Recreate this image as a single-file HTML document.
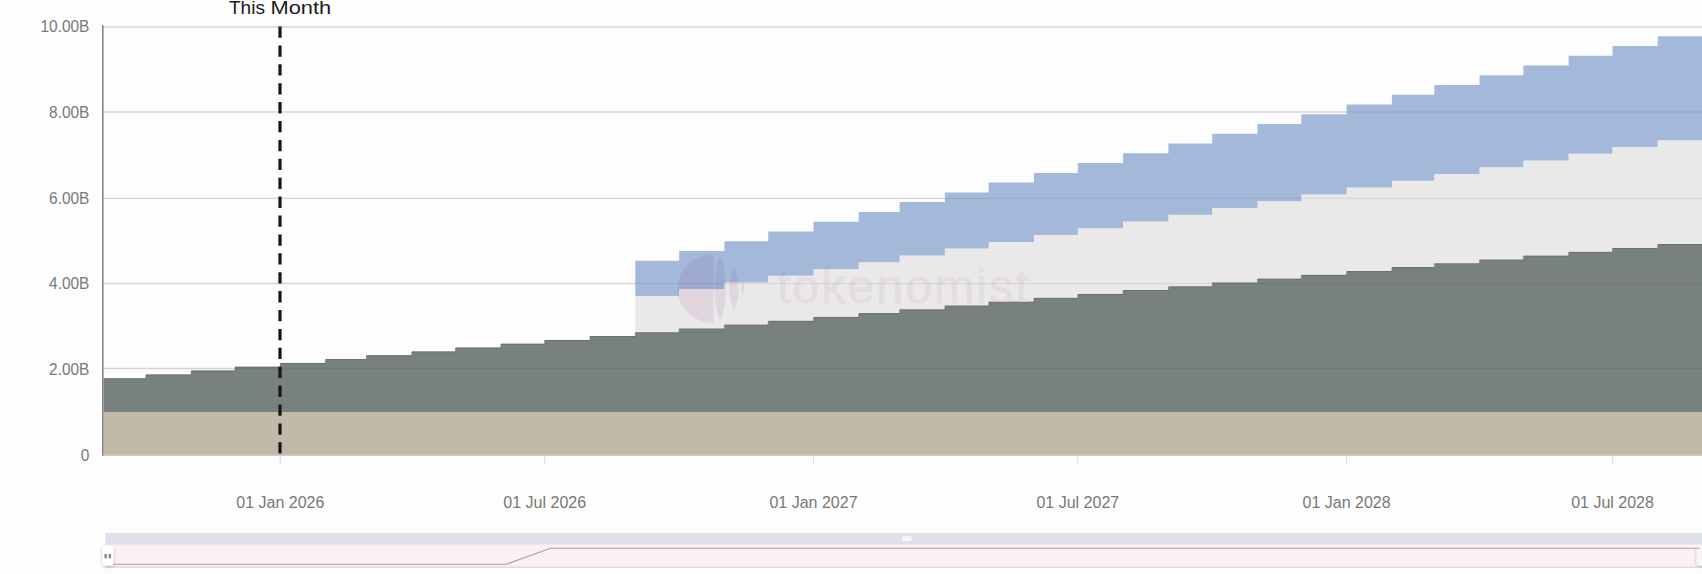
<!DOCTYPE html>
<html><head><meta charset="utf-8"><title>Chart</title>
<style>
html,body{margin:0;padding:0;background:#fdfdfd;}
body{width:1702px;height:574px;overflow:hidden;position:relative;font-family:"Liberation Sans",sans-serif;}
svg{position:absolute;left:0;top:0;display:block}
text{font-family:"Liberation Sans",sans-serif;}
</style></head><body>
<svg width="1702" height="574" viewBox="0 0 1702 574">
<defs>
<filter id="sh" x="-50%" y="-50%" width="200%" height="200%"><feGaussianBlur in="SourceAlpha" stdDeviation="1.6"/><feOffset dx="0" dy="0.5"/><feComponentTransfer><feFuncA type="linear" slope="0.28"/></feComponentTransfer><feMerge><feMergeNode/><feMergeNode in="SourceGraphic"/></feMerge></filter>
<filter id="blur1"><feGaussianBlur stdDeviation="0.7"/></filter>
</defs>
<rect width="1702" height="574" fill="#fdfdfd"/>

<rect x="103.5" y="26.20" width="1598.5" height="1.4" fill="#e3e3e3"/>
<rect x="103.5" y="111.35" width="1598.5" height="1.4" fill="#e3e3e3"/>
<rect x="103.5" y="197.75" width="1598.5" height="1.4" fill="#e3e3e3"/>
<rect x="103.5" y="282.85" width="1598.5" height="1.4" fill="#e3e3e3"/>
<rect x="103.5" y="367.80" width="1598.5" height="1.4" fill="#e3e3e3"/>
<path d="M103.5,412.0 L1702.0,412.0 L1702.0,455.0 L103.5,455.0Z" fill="#c3b9a8"/>
<path d="M103.5,378.2 L145.9,378.2 L145.9,374.4 L191.2,374.4 L191.2,370.5 L235.0,370.5 L235.0,366.7 L280.3,366.7 L280.3,362.9 L325.6,362.9 L325.6,359.1 L366.5,359.1 L366.5,355.2 L411.8,355.2 L411.8,351.4 L455.6,351.4 L455.6,347.6 L500.9,347.6 L500.9,343.7 L544.7,343.7 L544.7,339.9 L590.0,339.9 L590.0,336.1 L635.3,336.1 L635.3,332.2 L679.1,332.2 L679.1,328.4 L724.4,328.4 L724.4,324.6 L768.2,324.6 L768.2,320.8 L813.5,320.8 L813.5,316.9 L858.7,316.9 L858.7,313.1 L899.6,313.1 L899.6,309.3 L944.9,309.3 L944.9,305.4 L988.7,305.4 L988.7,301.6 L1034.0,301.6 L1034.0,297.8 L1077.8,297.8 L1077.8,293.9 L1123.1,293.9 L1123.1,290.1 L1168.4,290.1 L1168.4,286.3 L1212.2,286.3 L1212.2,282.4 L1257.5,282.4 L1257.5,278.6 L1301.3,278.6 L1301.3,274.8 L1346.6,274.8 L1346.6,271.0 L1391.9,271.0 L1391.9,267.1 L1434.3,267.1 L1434.3,263.3 L1479.5,263.3 L1479.5,259.5 L1523.4,259.5 L1523.4,255.6 L1568.6,255.6 L1568.6,251.8 L1612.5,251.8 L1612.5,248.0 L1657.7,248.0 L1657.7,244.1 L1702.0,244.1 L1702.0,412.0 L103.5,412.0Z" fill="#79817e"/>
<path d="M635.3,296.1 L679.1,296.1 L679.1,289.3 L724.4,289.3 L724.4,282.5 L768.2,282.5 L768.2,275.8 L813.5,275.8 L813.5,269.0 L858.7,269.0 L858.7,262.2 L899.6,262.2 L899.6,255.4 L944.9,255.4 L944.9,248.6 L988.7,248.6 L988.7,241.9 L1034.0,241.9 L1034.0,235.1 L1077.8,235.1 L1077.8,228.3 L1123.1,228.3 L1123.1,221.5 L1168.4,221.5 L1168.4,214.7 L1212.2,214.7 L1212.2,208.0 L1257.5,208.0 L1257.5,201.2 L1301.3,201.2 L1301.3,194.4 L1346.6,194.4 L1346.6,187.6 L1391.9,187.6 L1391.9,180.8 L1434.3,180.8 L1434.3,174.1 L1479.5,174.1 L1479.5,167.3 L1523.4,167.3 L1523.4,160.5 L1568.6,160.5 L1568.6,153.7 L1612.5,153.7 L1612.5,146.9 L1657.7,146.9 L1657.7,140.2 L1702.0,140.2 L1702.0,244.1 L1657.7,244.1 L1657.7,248.0 L1612.5,248.0 L1612.5,251.8 L1568.6,251.8 L1568.6,255.6 L1523.4,255.6 L1523.4,259.5 L1479.5,259.5 L1479.5,263.3 L1434.3,263.3 L1434.3,267.1 L1391.9,267.1 L1391.9,271.0 L1346.6,271.0 L1346.6,274.8 L1301.3,274.8 L1301.3,278.6 L1257.5,278.6 L1257.5,282.4 L1212.2,282.4 L1212.2,286.3 L1168.4,286.3 L1168.4,290.1 L1123.1,290.1 L1123.1,293.9 L1077.8,293.9 L1077.8,297.8 L1034.0,297.8 L1034.0,301.6 L988.7,301.6 L988.7,305.4 L944.9,305.4 L944.9,309.3 L899.6,309.3 L899.6,313.1 L858.7,313.1 L858.7,316.9 L813.5,316.9 L813.5,320.8 L768.2,320.8 L768.2,324.6 L724.4,324.6 L724.4,328.4 L679.1,328.4 L679.1,332.2 L635.3,332.2Z" fill="#e9e9e9"/>
<path d="M635.3,260.7 L679.1,260.7 L679.1,250.9 L724.4,250.9 L724.4,241.2 L768.2,241.2 L768.2,231.4 L813.5,231.4 L813.5,221.7 L858.7,221.7 L858.7,211.9 L899.6,211.9 L899.6,202.1 L944.9,202.1 L944.9,192.4 L988.7,192.4 L988.7,182.6 L1034.0,182.6 L1034.0,172.9 L1077.8,172.9 L1077.8,163.1 L1123.1,163.1 L1123.1,153.3 L1168.4,153.3 L1168.4,143.6 L1212.2,143.6 L1212.2,133.8 L1257.5,133.8 L1257.5,124.1 L1301.3,124.1 L1301.3,114.3 L1346.6,114.3 L1346.6,104.5 L1391.9,104.5 L1391.9,94.8 L1434.3,94.8 L1434.3,85.0 L1479.5,85.0 L1479.5,75.3 L1523.4,75.3 L1523.4,65.5 L1568.6,65.5 L1568.6,55.7 L1612.5,55.7 L1612.5,46.0 L1657.7,46.0 L1657.7,36.2 L1702.0,36.2 L1702.0,140.2 L1657.7,140.2 L1657.7,146.9 L1612.5,146.9 L1612.5,153.7 L1568.6,153.7 L1568.6,160.5 L1523.4,160.5 L1523.4,167.3 L1479.5,167.3 L1479.5,174.1 L1434.3,174.1 L1434.3,180.8 L1391.9,180.8 L1391.9,187.6 L1346.6,187.6 L1346.6,194.4 L1301.3,194.4 L1301.3,201.2 L1257.5,201.2 L1257.5,208.0 L1212.2,208.0 L1212.2,214.7 L1168.4,214.7 L1168.4,221.5 L1123.1,221.5 L1123.1,228.3 L1077.8,228.3 L1077.8,235.1 L1034.0,235.1 L1034.0,241.9 L988.7,241.9 L988.7,248.6 L944.9,248.6 L944.9,255.4 L899.6,255.4 L899.6,262.2 L858.7,262.2 L858.7,269.0 L813.5,269.0 L813.5,275.8 L768.2,275.8 L768.2,282.5 L724.4,282.5 L724.4,289.3 L679.1,289.3 L679.1,296.1 L635.3,296.1Z" fill="#a4b9da"/>
<path d="M103.5,378.7 L145.9,378.7 L145.9,374.9 L191.2,374.9 L191.2,371.0 L235.0,371.0 L235.0,367.2 L280.3,367.2 L280.3,363.4 L325.6,363.4 L325.6,359.6 L366.5,359.6 L366.5,355.7 L411.8,355.7 L411.8,351.9 L455.6,351.9 L455.6,348.1 L500.9,348.1 L500.9,344.2 L544.7,344.2 L544.7,340.4 L590.0,340.4 L590.0,336.6 L635.3,336.6 L635.3,332.7 L679.1,332.7 L679.1,328.9 L724.4,328.9 L724.4,325.1 L768.2,325.1 L768.2,321.2 L813.5,321.2 L813.5,317.4 L858.7,317.4 L858.7,313.6 L899.6,313.6 L899.6,309.8 L944.9,309.8 L944.9,305.9 L988.7,305.9 L988.7,302.1 L1034.0,302.1 L1034.0,298.3 L1077.8,298.3 L1077.8,294.4 L1123.1,294.4 L1123.1,290.6 L1168.4,290.6 L1168.4,286.8 L1212.2,286.8 L1212.2,282.9 L1257.5,282.9 L1257.5,279.1 L1301.3,279.1 L1301.3,275.3 L1346.6,275.3 L1346.6,271.5 L1391.9,271.5 L1391.9,267.6 L1434.3,267.6 L1434.3,263.8 L1479.5,263.8 L1479.5,260.0 L1523.4,260.0 L1523.4,256.1 L1568.6,256.1 L1568.6,252.3 L1612.5,252.3 L1612.5,248.5 L1657.7,248.5 L1657.7,244.6 L1702.0,244.6" fill="none" stroke="#5f6664" stroke-width="1" opacity="0.55"/>
<clipPath id="cBlue"><path d="M635.3,260.7 L679.1,260.7 L679.1,250.9 L724.4,250.9 L724.4,241.2 L768.2,241.2 L768.2,231.4 L813.5,231.4 L813.5,221.7 L858.7,221.7 L858.7,211.9 L899.6,211.9 L899.6,202.1 L944.9,202.1 L944.9,192.4 L988.7,192.4 L988.7,182.6 L1034.0,182.6 L1034.0,172.9 L1077.8,172.9 L1077.8,163.1 L1123.1,163.1 L1123.1,153.3 L1168.4,153.3 L1168.4,143.6 L1212.2,143.6 L1212.2,133.8 L1257.5,133.8 L1257.5,124.1 L1301.3,124.1 L1301.3,114.3 L1346.6,114.3 L1346.6,104.5 L1391.9,104.5 L1391.9,94.8 L1434.3,94.8 L1434.3,85.0 L1479.5,85.0 L1479.5,75.3 L1523.4,75.3 L1523.4,65.5 L1568.6,65.5 L1568.6,55.7 L1612.5,55.7 L1612.5,46.0 L1657.7,46.0 L1657.7,36.2 L1702.0,36.2 L1702.0,140.2 L1657.7,140.2 L1657.7,146.9 L1612.5,146.9 L1612.5,153.7 L1568.6,153.7 L1568.6,160.5 L1523.4,160.5 L1523.4,167.3 L1479.5,167.3 L1479.5,174.1 L1434.3,174.1 L1434.3,180.8 L1391.9,180.8 L1391.9,187.6 L1346.6,187.6 L1346.6,194.4 L1301.3,194.4 L1301.3,201.2 L1257.5,201.2 L1257.5,208.0 L1212.2,208.0 L1212.2,214.7 L1168.4,214.7 L1168.4,221.5 L1123.1,221.5 L1123.1,228.3 L1077.8,228.3 L1077.8,235.1 L1034.0,235.1 L1034.0,241.9 L988.7,241.9 L988.7,248.6 L944.9,248.6 L944.9,255.4 L899.6,255.4 L899.6,262.2 L858.7,262.2 L858.7,269.0 L813.5,269.0 L813.5,275.8 L768.2,275.8 L768.2,282.5 L724.4,282.5 L724.4,289.3 L679.1,289.3 L679.1,296.1 L635.3,296.1Z"/></clipPath><clipPath id="cLg"><path d="M635.3,296.1 L679.1,296.1 L679.1,289.3 L724.4,289.3 L724.4,282.5 L768.2,282.5 L768.2,275.8 L813.5,275.8 L813.5,269.0 L858.7,269.0 L858.7,262.2 L899.6,262.2 L899.6,255.4 L944.9,255.4 L944.9,248.6 L988.7,248.6 L988.7,241.9 L1034.0,241.9 L1034.0,235.1 L1077.8,235.1 L1077.8,228.3 L1123.1,228.3 L1123.1,221.5 L1168.4,221.5 L1168.4,214.7 L1212.2,214.7 L1212.2,208.0 L1257.5,208.0 L1257.5,201.2 L1301.3,201.2 L1301.3,194.4 L1346.6,194.4 L1346.6,187.6 L1391.9,187.6 L1391.9,180.8 L1434.3,180.8 L1434.3,174.1 L1479.5,174.1 L1479.5,167.3 L1523.4,167.3 L1523.4,160.5 L1568.6,160.5 L1568.6,153.7 L1612.5,153.7 L1612.5,146.9 L1657.7,146.9 L1657.7,140.2 L1702.0,140.2 L1702.0,244.1 L1657.7,244.1 L1657.7,248.0 L1612.5,248.0 L1612.5,251.8 L1568.6,251.8 L1568.6,255.6 L1523.4,255.6 L1523.4,259.5 L1479.5,259.5 L1479.5,263.3 L1434.3,263.3 L1434.3,267.1 L1391.9,267.1 L1391.9,271.0 L1346.6,271.0 L1346.6,274.8 L1301.3,274.8 L1301.3,278.6 L1257.5,278.6 L1257.5,282.4 L1212.2,282.4 L1212.2,286.3 L1168.4,286.3 L1168.4,290.1 L1123.1,290.1 L1123.1,293.9 L1077.8,293.9 L1077.8,297.8 L1034.0,297.8 L1034.0,301.6 L988.7,301.6 L988.7,305.4 L944.9,305.4 L944.9,309.3 L899.6,309.3 L899.6,313.1 L858.7,313.1 L858.7,316.9 L813.5,316.9 L813.5,320.8 L768.2,320.8 L768.2,324.6 L724.4,324.6 L724.4,328.4 L679.1,328.4 L679.1,332.2 L635.3,332.2Z"/></clipPath>
<g id="wm">
<g clip-path="url(#cBlue)"><g fill="#9faad0"><path d="M713.6,254 A36.2,34.4 0 0 0 713.6,322.8 Z"/>
<path d="M720.3,255 Q732,288.4 720.3,322 Q708.6,288.4 720.3,255 Z"/>
<path d="M734,268 Q743.1,288.5 734,309.5 Q724.9,288.5 734,268 Z"/>
<path d="M742.7,280 Q746.1,288 742.7,296 Q739.3,288 742.7,280 Z"/></g><g fill="#a0afd2" stroke="#a0afd2" stroke-width="0.8"><text x="777" y="302.6" font-size="48.5" letter-spacing="1.9" style="font-family:'Liberation Sans',sans-serif">tokenomist</text></g></g>
<g clip-path="url(#cLg)"><g fill="#e2d6de"><path d="M713.6,254 A36.2,34.4 0 0 0 713.6,322.8 Z"/>
<path d="M720.3,255 Q732,288.4 720.3,322 Q708.6,288.4 720.3,255 Z"/>
<path d="M734,268 Q743.1,288.5 734,309.5 Q724.9,288.5 734,268 Z"/>
<path d="M742.7,280 Q746.1,288 742.7,296 Q739.3,288 742.7,280 Z"/></g><g fill="#e5dce0" stroke="#e5dce0" stroke-width="0.8"><text x="777" y="302.6" font-size="48.5" letter-spacing="1.9" style="font-family:'Liberation Sans',sans-serif">tokenomist</text></g></g>
</g>
<rect x="103.5" y="26.20" width="1598.5" height="1.4" fill="#000" opacity="0.065"/>
<rect x="103.5" y="111.35" width="1598.5" height="1.4" fill="#000" opacity="0.065"/>
<rect x="103.5" y="197.75" width="1598.5" height="1.4" fill="#000" opacity="0.065"/>
<rect x="103.5" y="282.85" width="1598.5" height="1.4" fill="#000" opacity="0.065"/>
<rect x="103.5" y="367.80" width="1598.5" height="1.4" fill="#000" opacity="0.065"/>
<rect x="102.5" y="454.6" width="1599.5" height="1.4" fill="#cfcbc4"/>
<rect x="102.0" y="25.2" width="1.6" height="430.4" fill="#868686"/>
<rect x="279.7" y="456" width="1.2" height="7.5" fill="#dedede"/>
<rect x="544.1" y="456" width="1.2" height="7.5" fill="#dedede"/>
<rect x="812.9" y="456" width="1.2" height="7.5" fill="#dedede"/>
<rect x="1077.2" y="456" width="1.2" height="7.5" fill="#dedede"/>
<rect x="1346.0" y="456" width="1.2" height="7.5" fill="#dedede"/>
<rect x="1611.9" y="456" width="1.2" height="7.5" fill="#dedede"/>
<line x1="280" y1="26.5" x2="280" y2="454" stroke="#161616" stroke-width="3.2" stroke-dasharray="11.3 7.6"/>
<text transform="translate(89.4,32.00) scale(0.965,1)" font-size="16" fill="#787878" text-anchor="end">10.00B</text>
<text transform="translate(89.4,117.85) scale(0.965,1)" font-size="16" fill="#787878" text-anchor="end">8.00B</text>
<text transform="translate(89.4,203.70) scale(0.965,1)" font-size="16" fill="#787878" text-anchor="end">6.00B</text>
<text transform="translate(89.4,288.75) scale(0.965,1)" font-size="16" fill="#787878" text-anchor="end">4.00B</text>
<text transform="translate(89.4,374.70) scale(0.965,1)" font-size="16" fill="#787878" text-anchor="end">2.00B</text>
<text transform="translate(89.4,461.20) scale(0.965,1)" font-size="16" fill="#787878" text-anchor="end">0</text>
<text transform="translate(280.3,508) scale(1,1)" font-size="16" fill="#787878" text-anchor="middle">01 Jan 2026</text>
<text transform="translate(544.7,508) scale(1,1)" font-size="16" fill="#787878" text-anchor="middle">01 Jul 2026</text>
<text transform="translate(813.5,508) scale(1,1)" font-size="16" fill="#787878" text-anchor="middle">01 Jan 2027</text>
<text transform="translate(1077.8,508) scale(1,1)" font-size="16" fill="#787878" text-anchor="middle">01 Jul 2027</text>
<text transform="translate(1346.6,508) scale(1,1)" font-size="16" fill="#787878" text-anchor="middle">01 Jan 2028</text>
<text transform="translate(1612.5,508) scale(1,1)" font-size="16" fill="#787878" text-anchor="middle">01 Jul 2028</text>
<text transform="translate(228.9,14.1) scale(1.06,1)" font-size="18" fill="#1c1c1c">This</text><text transform="translate(270.5,14.1) scale(1.215,1)" font-size="18" fill="#1c1c1c">Month</text>
<g id="slider">
<defs><linearGradient id="lav" x1="0" y1="0" x2="0" y2="1"><stop offset="0" stop-color="#d9dde4"/><stop offset="0.14" stop-color="#dee3ec"/><stop offset="0.7" stop-color="#e0e1eb"/><stop offset="1" stop-color="#e2dee8"/></linearGradient></defs>
<rect x="105.5" y="544" width="1597" height="23.4" fill="#fbf0f2"/>
<path d="M550.6,544.5 L1702,544.5 L1702,548.2 L550.6,548.2 Z" fill="#fcf5f6"/>
<rect x="105.5" y="533" width="1597" height="11.5" fill="url(#lav)"/>
<rect x="105.5" y="566.6" width="1597" height="1.3" fill="#dbd9d9"/>
<rect x="902" y="536.2" width="9.4" height="4.8" rx="0.8" fill="#f4f5f9"/>
<rect x="102.3" y="545.5" width="11.4" height="20" rx="3.2" fill="#ffffff" filter="url(#sh)"/>
<rect x="104.4" y="554" width="2.5" height="4.4" fill="#8d8d8d"/>
<rect x="108.6" y="554" width="2.5" height="4.4" fill="#8d8d8d"/>
<rect x="1696.5" y="546.5" width="11.4" height="19" rx="3.2" fill="#f9f5f6" filter="url(#sh)"/>
<path d="M113.5,564.2 L506.5,564.2 L550.6,548.2 L1699.6,548.2" fill="none" stroke="#a99ba4" stroke-width="1.15"/>
</g>
</svg></body></html>
